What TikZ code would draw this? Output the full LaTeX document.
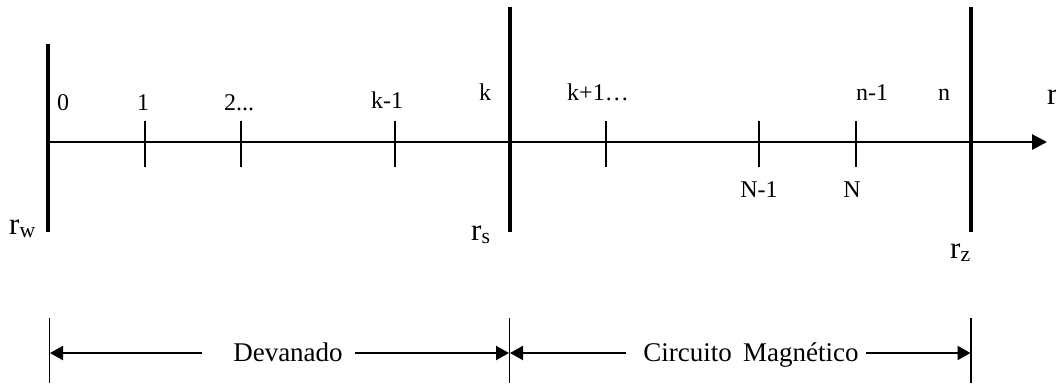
\documentclass[tikz,border=0pt]{standalone}
\usepackage{fontspec}
\setmainfont{Liberation Serif}
\usetikzlibrary{arrows.meta}
\tikzset{
  lbl/.style={inner sep=0pt, anchor=base, font=\fontsize{24}{28}\selectfont},
  rlbl/.style={inner sep=0pt, anchor=base west, font=\fontsize{31}{36}\selectfont},
  blbl/.style={inner sep=0pt, anchor=base, font=\fontsize{27}{32}\selectfont},
  wall/.style={line width=4pt},
  axisline/.style={line width=2.8pt, -{Triangle[length=15pt,width=15pt]}},
  tickmark/.style={line width=1.8pt},
  dimline/.style={line width=1.3pt},
  dimarrow/.style={line width=2.2pt, -{Triangle[length=13pt,width=14pt]}}
}
\begin{document}
\begin{tikzpicture}[x=1pt,y=-1pt]
\useasboundingbox (0,0) rectangle (1056,383);
% walls
\coordinate (wT) at (48,44);  \coordinate (wB) at (48,232);
\coordinate (sT) at (510,7);  \coordinate (sB) at (510,232);
\coordinate (zT) at (971,7);  \coordinate (zB) at (971,232);
\draw[wall] (wT) -- (wB);
\draw[wall] (sT) -- (sB);
\draw[wall] (zT) -- (zB);
% axis
\coordinate (a0) at (48,142);
\coordinate (a1) at (1047,142);
\draw[axisline] (a0) -- (a1);
% ticks
\foreach \x/\n in {145/t1,241/t2,395/tkm,606/tkp,759/tNm,856/tN}{
  \coordinate (\n top) at (\x,121);
  \coordinate (\n bot) at (\x,167);
  \draw[tickmark] (\n top) -- (\n bot);
}
% labels above
\node[lbl] (l0) at (63,110) {0};
\node[lbl] (l1) at (143,110) {1};
\node[lbl] (l2) at (239,110) {2...};
\node[lbl] (lkm) at (387,108) {k-1};
\node[lbl] (lk) at (485,100) {k};
\node[lbl] (lkp) at (598,100) {k+1…};
\node[lbl] (lnm) at (872,100) {n-1};
\node[lbl] (ln) at (944,100) {n};
\node[rlbl] (lr) at (1047,104) {r};
% labels below
\node[lbl] (lNm) at (759,197) {N-1};
\node[lbl] (lN) at (852,197) {N};
\node[rlbl] (rw) at (9,234) {r\textsubscript{w}};
\node[rlbl] (rs) at (471,240) {r\textsubscript{s}};
\node[rlbl] (rz) at (950,258) {r\textsubscript{z}};
% dimension lines
\coordinate (dwT) at (49.5,318); \coordinate (dwB) at (49.5,383);
\coordinate (dsT) at (509.5,318); \coordinate (dsB) at (509.5,383);
\coordinate (dzT) at (971,318); \coordinate (dzB) at (971,383);
\draw[dimline] (dwT) -- (dwB);
\draw[dimline] (dsT) -- (dsB);
\draw[dimline] (dzT) -- (dzB);
\node[blbl] (dev) at (288,361) {Devanado};
\node[blbl] (cm) at (751,361) {Circuito\, Magnético};
\coordinate (d1s) at (202,353); \coordinate (d1e) at (50,353);
\coordinate (d2s) at (355,353); \coordinate (d2e) at (509,353);
\coordinate (d3s) at (626,353); \coordinate (d3e) at (510,353);
\coordinate (d4s) at (866,353); \coordinate (d4e) at (970.5,353);
\draw[dimarrow] (d1s) -- (d1e);
\draw[dimarrow] (d2s) -- (d2e);
\draw[dimarrow] (d3s) -- (d3e);
\draw[dimarrow] (d4s) -- (d4e);
\end{tikzpicture}
\end{document}
